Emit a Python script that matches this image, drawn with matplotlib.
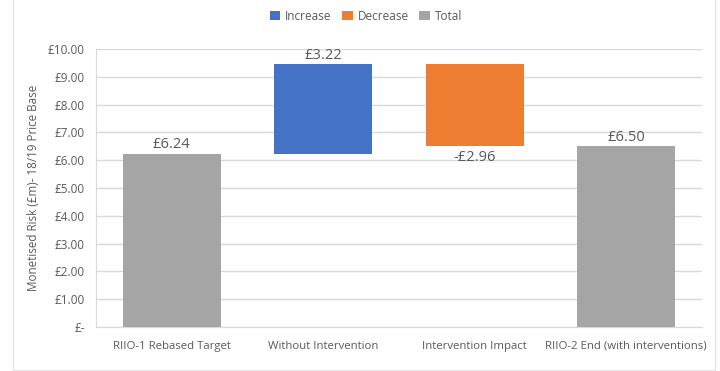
import matplotlib.pyplot as plt
from matplotlib.patches import Patch
from matplotlib.lines import Line2D
import numpy as np

plt.rcParams['font.family'] = ['Open Sans', 'DejaVu Sans']

categories = ['RIIO-1 Rebased Target', 'Without Intervention',
              'Intervention Impact', 'RIIO-2 End (with interventions)']
steps = [6.24, 3.22, -2.96, 6.50]
kinds = ['total', 'increase', 'decrease', 'total']
yticks = [0, 1, 2, 3, 4, 5, 6, 7, 8, 9, 10]

colors = {'increase': '#4472c4', 'decrease': '#ed7d31', 'total': '#a5a5a5'}
txt = '#595959'
grid = '#d9d9d9'

# work out waterfall bottoms/heights
bottoms, heights = [], []
running = 0.0
for v, k in zip(steps, kinds):
    if k == 'total':
        bottoms.append(0.0)
        heights.append(v)
        running = v
    else:
        bottoms.append(running)
        heights.append(v)
        running += v

fig = plt.figure(figsize=(7.2, 3.71), dpi=100)
ax = fig.add_axes([96 / 720, 1 - 327 / 371, (702 - 96) / 720, (327 - 49) / 371])

x = np.arange(len(categories))
for i in range(len(categories)):
    ax.bar(x[i], heights[i], bottom=bottoms[i], width=0.65,
           color=colors[kinds[i]], zorder=3)
    top = bottoms[i] + max(heights[i], 0)
    low = bottoms[i] + min(heights[i], 0)
    lab = f'£{steps[i]:.2f}' if steps[i] >= 0 else f'-£{-steps[i]:.2f}'
    if kinds[i] == 'decrease':
        ax.text(x[i], low - 0.12, lab, ha='center', va='top', fontsize=10.5, color=txt)
    else:
        ax.text(x[i], top + 0.05, lab, ha='center', va='bottom', fontsize=10.5, color=txt)

ax.set_xlim(-0.5, len(categories) - 0.5)
ax.set_ylim(0, 10)
ax.set_yticks(yticks)
ax.set_yticklabels([f'£{t:.2f}' if t else '£-' for t in yticks])
ax.set_xticks(x)
ax.set_xticklabels(categories)
ax.tick_params(axis='both', length=0, labelsize=8.5, colors=txt)
ax.tick_params(axis='x', labelsize=8.2, pad=10)
ax.tick_params(axis='y', pad=8)
ax.grid(axis='y', color=grid, linewidth=1, zorder=0)
for s in ['top', 'right']:
    ax.spines[s].set_visible(False)
for s in ['left', 'bottom']:
    ax.spines[s].set_color(grid)
ax.set_ylabel('Monetised Risk (£m)- 18/19 Price Base', fontsize=8.4, color=txt, labelpad=6)

handles = [Patch(facecolor=colors[k], label=n)
           for k, n in [('increase', 'Increase'), ('decrease', 'Decrease'), ('total', 'Total')]]
fig.legend(handles=handles, loc='center', bbox_to_anchor=(366 / 720, 1 - 16 / 371), ncol=3,
           frameon=False, fontsize=8.5, handlelength=0.9, handleheight=0.9,
           handletextpad=0.4, columnspacing=0.9, labelcolor=txt)

# light frame round the chart (left, bottom, right only)
fx = [13 / 720, 13 / 720, 715 / 720, 715 / 720]
fy = [1.0, 1 - 370 / 371, 1 - 370 / 371, 1.0]
fig.add_artist(Line2D(fx, fy, transform=fig.transFigure, color='#e6e6e6', linewidth=1))

fig.savefig('out.png', dpi=100)
